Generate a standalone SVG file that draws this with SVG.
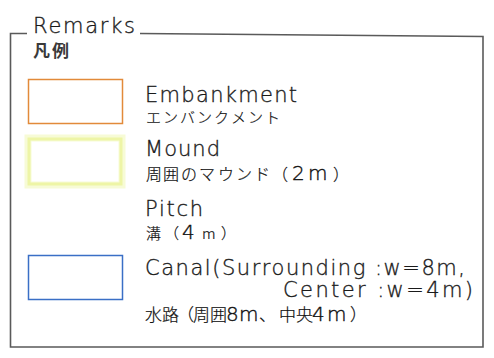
<svg xmlns="http://www.w3.org/2000/svg" width="494" height="358" viewBox="0 0 494 358">
<style>
.lat{font-family:"DejaVu Sans","Liberation Sans",sans-serif;font-weight:200;font-size:21px;fill:#1a1a1a;stroke:#1a1a1a;stroke-width:0.35}
.jp{font-family:"Noto Sans CJK JP","Liberation Sans",sans-serif;font-weight:300;font-size:15px;fill:#111111;stroke:#111111;stroke-width:0.2}
.num{font-family:"DejaVu Sans","Liberation Sans",sans-serif;font-weight:200;font-size:20px;stroke-width:0.4}
.frame{fill:none;stroke:#5a5a5a;stroke-width:1.6}
</style>
<rect width="494" height="358" fill="#ffffff"/>
<g id="frame">
<path class="frame" d="M27,33.5 L10.5,33.5 L10.5,347 L483,347 L483,36.5 L140,33.5"/>
<text class="lat" x="33" y="33" font-size="22" textLength="102" lengthAdjust="spacing">Remarks</text>
<text class="jp" x="33 52" y="57" style="font-weight:bold;font-size:17px;fill:#3a3a3a;stroke:none">凡例</text>
</g>
<g id="embankment">
<rect x="28.5" y="79.5" width="94" height="44" fill="none" stroke="#e28a3a" stroke-width="1.5"/>
<text class="lat" x="145" y="102" textLength="152" lengthAdjust="spacing">Embankment</text>
<text class="jp" x="146 163 180 197 214 231 248 265" y="123" style="font-size:15px">エンバンクメント</text>
</g>
<g id="mound">
<rect x="28" y="138" width="94" height="47" fill="none" stroke="#f7fbd6" stroke-width="7"/>
<rect x="29" y="139" width="92" height="45" fill="none" stroke="#eef5a6" stroke-width="3"/>
<text class="lat" x="145" y="156" textLength="75" lengthAdjust="spacing">Mound</text>
<text class="jp" y="180" style="font-size:16px"><tspan x="146 163 181 199 218 236 254 272">周囲のマウンド（</tspan><tspan class="num" x="292 308">2m</tspan><tspan x="333">）</tspan></text>
</g>
<g id="pitch">
<text class="lat" x="145" y="216" textLength="58" lengthAdjust="spacing">Pitch</text>
<text class="jp" y="239" style="font-size:15px"><tspan x="146 164">溝（</tspan><tspan class="num" x="182">4</tspan><tspan x="202 221">m）</tspan></text>
</g>
<g id="canal">
<rect x="28.5" y="255.5" width="94" height="44" fill="none" stroke="#3a6fc6" stroke-width="1.5"/>
<text class="lat" x="145" y="275" textLength="320" lengthAdjust="spacing">Canal(Surrounding :w=8m,</text>
<text class="lat" x="283" y="297" textLength="190" lengthAdjust="spacing">Center :w=4m)</text>
<text class="jp" y="321" style="font-size:17px"><tspan x="145 162 177 193 210">水路（周囲</tspan><tspan class="num" x="226 239">8m</tspan><tspan x="259 279 296">、中央</tspan><tspan class="num" x="312 327">4m</tspan><tspan x="350">）</tspan></text>
</g>
<g id="connectors"></g>
</svg>
